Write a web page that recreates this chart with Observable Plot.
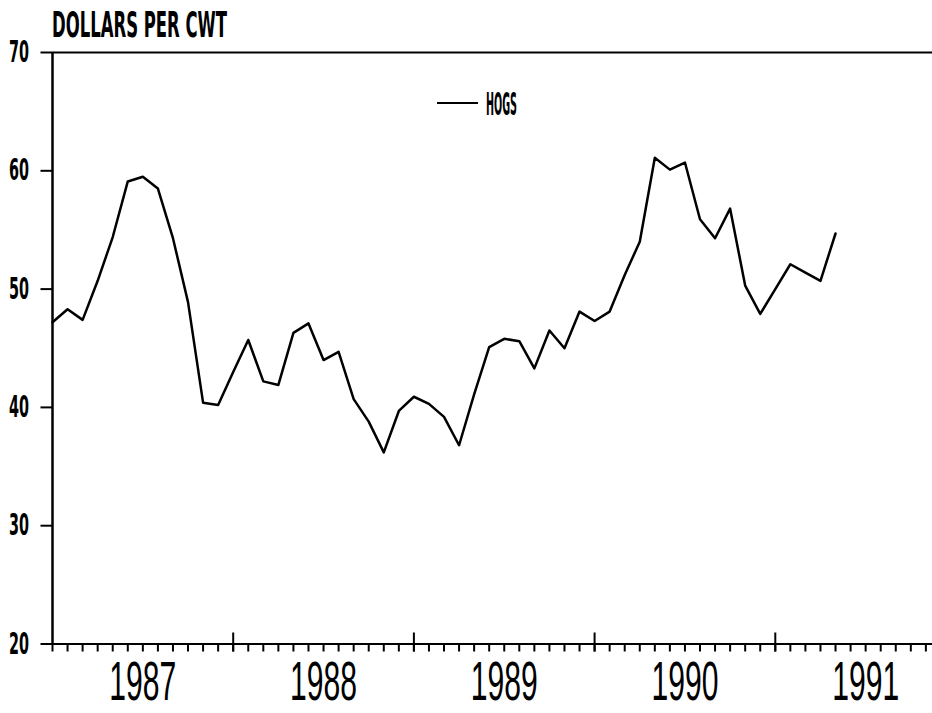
<!DOCTYPE html>
<html><head><meta charset="utf-8">
<script src="https://cdn.jsdelivr.net/npm/d3@7"></script>
<script src="https://cdn.jsdelivr.net/npm/@observablehq/plot@0.6"></script>
<style>
body{margin:0;background:#fff;}
#wrap{position:relative;width:932px;height:713px;overflow:hidden;font-family:"Liberation Sans Narrow","DejaVu Sans Condensed","DejaVu Sans",sans-serif;color:#000;}
#chart svg{display:block;}
#title-text{position:absolute;left:52px;top:8px;font-size:35px;line-height:1;font-weight:bold;white-space:nowrap;transform-origin:0 0;display:inline-block;}
#legend-line{position:absolute;left:437px;top:101.5px;width:41px;height:2.5px;background:#000;}
#legend-text{position:absolute;left:486px;top:88px;font-size:32px;line-height:1;font-weight:bold;transform-origin:0 0;display:inline-block;white-space:nowrap;}
</style></head><body>
<div id="wrap">
  <div id="chart"></div>
  <span id="title-text"></span>
  <div id="legend-line"></div>
  <span id="legend-text"></span>
</div>
<script>
// ---- data (monthly, Jan 1987 – May 1991) ----
const startYear = 1987;
const hogs = [
  47.2, 48.3, 47.4, 50.7, 54.4, 59.1, 59.5, 58.5, 54.3, 48.9, 40.4, 40.2,   // 1987
  43.0, 45.7, 42.2, 41.9, 46.3, 47.1, 44.0, 44.7, 40.7, 38.8, 36.2, 39.7,   // 1988
  40.9, 40.3, 39.2, 36.8, 41.1, 45.1, 45.8, 45.6, 43.3, 46.5, 45.0, 48.1,   // 1989
  47.3, 48.1, 51.2, 54.0, 61.1, 60.1, 60.7, 55.9, 54.3, 56.8, 50.3, 47.9,   // 1990
  50.0, 52.1, 51.4, 50.7, 54.7                                              // 1991
];
const yTicks = [20, 30, 40, 50, 60, 70];
const years = [1987, 1988, 1989, 1990, 1991];
const yearLabels = ["1987", "1988", "1989", "1990", "1991"];
const seriesName = "HOGS";
const yTitle = "DOLLARS PER CWT";
const xDomain = [1987, 1991.87];
const yDomain = [20, 70];

const data = hogs.map((v, i) => ({t: startYear + i / 12, v}));
const monthTicks = d3.range(0, 59).map(i => startYear + i / 12);
const majorTicks = years.slice(1);

const FONT = '"Liberation Sans Narrow","DejaVu Sans Condensed","DejaVu Sans",sans-serif';

const plot = Plot.plot({
  width: 932, height: 713,
  marginTop: 52, marginBottom: 69.5, marginLeft: 52, marginRight: 0,
  style: {background: "#fff", color: "#000", fontFamily: FONT},
  x: {domain: xDomain},
  y: {domain: yDomain},
  marks: [
    Plot.ruleY([yDomain[0], yDomain[1]], {stroke: "#000", strokeWidth: 2}),
    Plot.ruleX([startYear], {stroke: "#000", strokeWidth: 2.5}),
    Plot.axisY({ticks: yTicks, tickSize: 11.5, tickPadding: 12, tickFormat: d => String(d),
      fontSize: 30, fontWeight: "bold", strokeWidth: 2, label: null}),
    Plot.axisX({ticks: monthTicks, tickSize: 8, tickFormat: () => "", strokeWidth: 2, label: null}),
    Plot.axisX({ticks: majorTicks, tickSize: 19, dy: -11, tickFormat: () => "", strokeWidth: 2, label: null}),
    Plot.text(years, {x: d => d + 0.5, text: (d, i) => yearLabels[i], frameAnchor: "bottom",
      lineAnchor: "top", dy: 16.5, fontSize: 56, fill: "#000",
      fontFamily: '"Liberation Sans","DejaVu Sans",sans-serif'}),
    Plot.line(data, {x: "t", y: "v", stroke: "#000", strokeWidth: 2.5, strokeLinejoin: "round"})
  ]
});
document.getElementById("chart").appendChild(plot);

// condense the labels like the plotter font (scale horizontally about the anchor)
function condense(el, target, anchor) {
  const b = el.getBBox();
  if (!b.width) return;
  const s = target / b.width;
  const cx = anchor === "end" ? b.x + b.width : anchor === "start" ? b.x : b.x + b.width / 2;
  const t = el.getAttribute("transform") || "";
  el.setAttribute("transform", `${t} translate(${cx},0) scale(${s},1) translate(${-cx},0)`);
}
const svg = d3.select(plot);
svg.selectAll('g[aria-label="y-axis tick label"] text').each(function() { condense(this, 20, "end"); });
svg.selectAll("text").filter(function() { return yearLabels.includes(this.textContent); })
  .each(function() { condense(this, 67, "middle"); });

function squeeze(el, text, target) {
  el.textContent = text;
  const w = el.getBoundingClientRect().width;
  el.style.transform = `scaleX(${target / w})`;
}
squeeze(document.getElementById("title-text"), yTitle, 175);
squeeze(document.getElementById("legend-text"), seriesName, 31);
</script>
</body></html>
